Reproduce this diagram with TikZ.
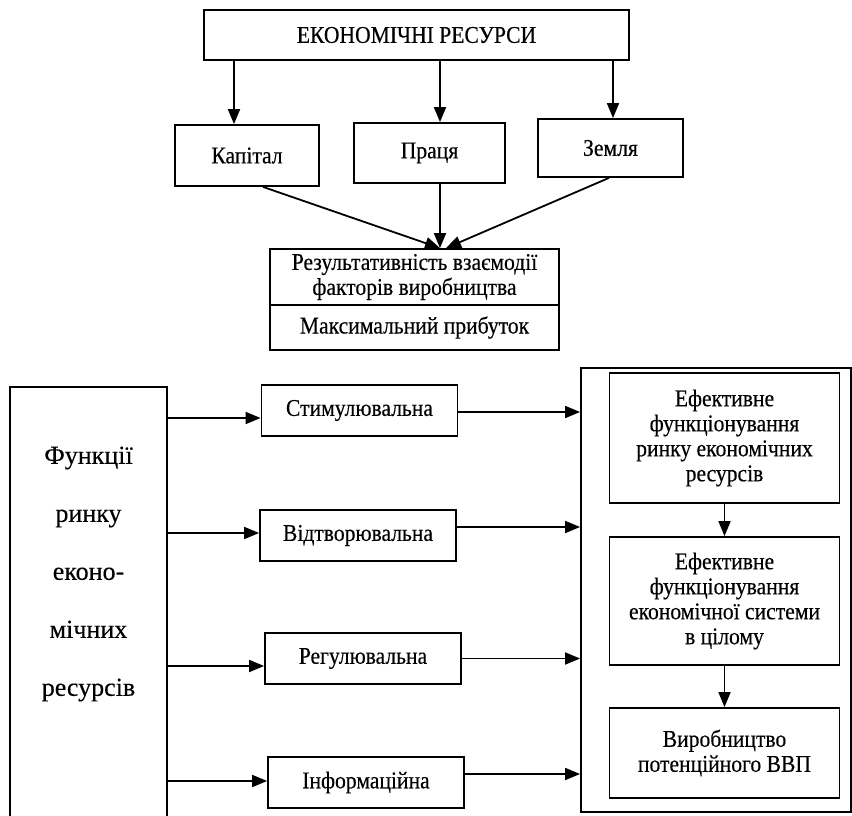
\documentclass[tikz,border=0pt]{standalone}
\usepackage{fontspec}
\setmainfont{Liberation Serif}[FakeStretch=0.9,FakeBold=0.3]
\newfontfamily\wideserif{Liberation Serif}[FakeBold=0.3]
\usetikzlibrary{arrows.meta,positioning,calc}

\begin{document}
\begin{tikzpicture}[
    x=1pt,y=-1pt,
    box/.style={draw,line width=1.8pt,align=center,inner sep=2pt,font=\fontsize{24}{25}\selectfont},
    fnbox/.style={box,minimum width=196pt,minimum height=51pt},
    effbox/.style={box,minimum width=230pt},
    arrow/.style={-{Triangle[length=15pt,width=12pt]},line width=1.8pt}
  ]
    \useasboundingbox (0,0) rectangle (852,816);
    \clip (0,0) rectangle (852,816);

    % resources
    \node[box,minimum width=425pt,minimum height=50pt] (econ) at (416.5,35) {ЕКОНОМІЧНІ РЕСУРСИ};
    \node[box,minimum width=144pt,minimum height=61pt] (kap) at (247,155.5) {Капітал};
    \node[box,minimum width=151pt,minimum height=60pt] (pr) at (429.5,153) {Праця};
    \node[box,minimum width=145pt,minimum height=58pt] (zem) at (610.5,148) {Земля};

    \node[box,minimum width=289pt,minimum height=56pt] (eff) at (414.5,277) {Результативність взаємодії\\факторів виробництва};
    \node[box,minimum width=289pt,minimum height=45pt,below=-1.8pt of eff] (prof) {Максимальний прибуток};

    \coordinate (kt) at ([xshift=-13pt]kap.north);
    \coordinate (pt) at ([xshift=10.5pt]pr.north);
    \coordinate (zt) at ([xshift=2.5pt]zem.north);
    \draw[arrow] (econ.south -| kt) -- (kt);
    \draw[arrow] (econ.south -| pt) -- (pt);
    \draw[arrow] (econ.south -| zt) -- (zt);

    \coordinate (meet) at ([xshift=25.5pt]eff.north);
    \draw[arrow] ([xshift=16pt]kap.south) -- (meet);
    \draw[arrow] ([xshift=10.5pt]pr.south) -- (meet);
    \draw[arrow] ([xshift=-1.5pt]zem.south) -- ([xshift=6pt]meet);

    % functions of the market
    \node[box,minimum width=157pt,minimum height=443pt] (func) at (88.5,608.5) {};
    \node[font=\wideserif\fontsize{26}{58}\selectfont,align=center] (functxt) at (88.5,574) {Функції\\ринку\\еконо-\\мічних\\ресурсів};

    \node[fnbox] (stim) at (359.5,410.5) {Стимулювальна};
    \node[fnbox] (vidt) at (358,535.5) {Відтворювальна};
    \node[fnbox] (reg) at (363,658.5) {Регулювальна};
    \node[fnbox] (inf) at (366,782.5) {Інформаційна};

    \node[box,minimum width=270pt,minimum height=444pt] (outer) at (716,590) {};
    \node[effbox,minimum height=130pt] (eff1) at (724.5,438) {Ефективне\\функціонування\\ринку економічних\\ресурсів};
    \node[effbox,minimum height=128pt] (eff2) at (724.5,601) {Ефективне\\функціонування\\економічної системи\\в цілому};
    \node[effbox,minimum height=90pt] (vvp) at (724.5,753) {Виробництво\\потенційного ВВП};

    \coordinate (si) at ([yshift=-7.5pt]stim.west);
    \coordinate (vi) at ([yshift=2.5pt]vidt.west);
    \coordinate (ri) at ([yshift=-7.5pt]reg.west);
    \coordinate (ii) at ([yshift=1.5pt]inf.west);
    \draw[arrow] (func.east |- si) -- (si);
    \draw[arrow] (func.east |- vi) -- (vi);
    \draw[arrow] (func.east |- ri) -- (ri);
    \draw[arrow] (func.east |- ii) -- (ii);

    \coordinate (so) at ([yshift=-1.5pt]stim.east);
    \coordinate (vo) at ([yshift=8.5pt]vidt.east);
    \coordinate (ro) at (reg.east);
    \coordinate (io) at ([yshift=8.5pt]inf.east);
    \draw[arrow] (so) -- (so -| outer.west);
    \draw[arrow] (vo) -- (vo -| outer.west);
    \draw[arrow] (ro) -- (ro -| outer.west);
    \draw[arrow] (io) -- (io -| outer.west);

    \draw[arrow] (eff1.south) -- (eff1.south |- eff2.north);
    \draw[arrow] (eff2.south) -- (eff2.south |- vvp.north);
  \end{tikzpicture}
\end{document}
